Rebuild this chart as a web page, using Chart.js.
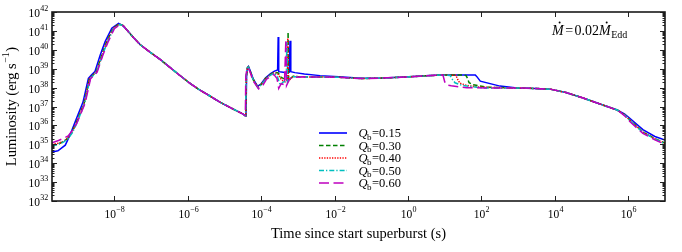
<!DOCTYPE html>
<html>
<head>
<meta charset="utf-8">
<script src="https://cdn.jsdelivr.net/npm/chart.js@4/dist/chart.umd.min.js"></script>
<style>
  html, body { margin: 0; padding: 0; background: #fff; }
  #wrap { width: 682px; height: 252px; }
</style>
</head>
<body>
<div id="wrap"><canvas id="lumChart"></canvas></div>
<script>
// Q_b values for the five runs
const qbValues = ['0.15', '0.30', '0.40', '0.50', '0.60'];
const xTickExps = [-8, -6, -4, -2, 0, 2, 4, 6];
const yTickExps = [32, 33, 34, 35, 36, 37, 38, 39, 40, 41, 42];

// [time (s), luminosity (erg/s)]
const decayPts = [
  [2.2e-8, 1.1e41], [3.3e-8, 4.5e40], [5e-8, 1.9e40], [9.3e-8, 7.6e39], [1.8e-7, 3e39],
  [3.2e-7, 1.2e39], [6e-7, 4.5e38], [1.1e-6, 1.8e38], [2e-6, 8e37], [3.9e-6, 3.7e37],
  [7.5e-6, 1.7e37], [1.4e-5, 9e36], [2.3e-5, 5.5e36], [3.2e-5, 4e36]
];
const plateauPts = [
  [1.5e-3, 3.7e38], [5e-3, 3.6e38], [1.3e-2, 3.5e38], [5.4e-2, 3e38], [0.2, 3.2e38],
  [0.83, 3.6e38], [3, 4.2e38], [7.8, 4.6e38]
];
const tailPts = [
  [930, 9.5e37], [3000, 9e37], [7400, 8.3e37], [2e4, 5.5e37], [5.9e4, 2.8e37],
  [1.7e5, 1.35e37], [5e5, 6.5e36]
];

const q015 = [
  [2e-10, 3.9e34], [2.9e-10, 4.5e34], [4.6e-10, 9e34], [6.2e-10, 3.1e35], [8.5e-10, 1.5e36],
  [1.4e-9, 1.7e37], [1.96e-9, 3.1e38], [2.4e-9, 4.7e38], [2.95e-9, 7e38], [4.1e-9, 5.2e39],
  [5.6e-9, 2.7e40], [8.5e-9, 1.4e41], [1.3e-8, 2.5e41], [1.7e-8, 1.9e41],
  ...decayPts,
  [3.6e-5, 3.3e36], [3.85e-5, 3.2e36], [4e-5, 4e38], [4.2e-5, 1.1e39], [4.5e-5, 1.3e39],
  [5e-5, 8e38], [6e-5, 3e38], [8e-5, 1.15e38], [1e-4, 1.6e38], [1.3e-4, 3.2e38],
  [1.8e-4, 5.5e38], [2.3e-4, 7.5e38], [2.8e-4, 8.5e38], [2.9e-4, 4.8e40], [3e-4, 7e38],
  [4e-4, 6.5e38], [5e-4, 6e38], [5.8e-4, 6.5e38], [6.1e-4, 3e40], [6.4e-4, 7e38],
  [8.3e-4, 6.2e38], [1.5e-3, 5.3e38], [4e-3, 4.3e38], [1.3e-2, 3.7e38], [5.4e-2, 3.1e38],
  [0.2, 3.2e38], [0.83, 3.6e38], [3, 4.2e38], [7.8, 4.6e38], [30, 4.7e38], [68, 4.6e38],
  [75, 3.8e38], [93, 2.2e38], [320, 1.2e38],
  ...tailPts,
  [8e5, 4e36], [1.1e6, 2.4e36], [2.5e6, 6e35], [5.3e6, 2.6e35], [1e7, 1.7e35]
];
const q030 = [
  [2e-10, 8.5e34], [3e-10, 1.05e35], [4.2e-10, 1.4e35], [5.5e-10, 2.2e35], [7e-10, 4.5e35],
  [9e-10, 1.3e36], [1.5e-9, 1.5e37], [2.1e-9, 3e38], [2.6e-9, 4.5e38], [3.2e-9, 6.8e38],
  [4.5e-9, 5e39], [6.1e-9, 2.6e40], [9.2e-9, 1.35e41], [1.35e-8, 2.35e41], [1.75e-8, 1.9e41],
  ...decayPts,
  [3.6e-5, 3.3e36], [3.8e-5, 3.2e36], [3.95e-5, 4e38], [4.2e-5, 1.1e39], [4.5e-5, 1.25e39],
  [5e-5, 7.5e38], [6e-5, 2.8e38], [8.1e-5, 1.05e38], [1e-4, 1.5e38], [1.3e-4, 3e38],
  [1.8e-4, 5e38], [2.3e-4, 6.5e38], [2.9e-4, 6e38], [3.5e-4, 3.5e38], [4.5e-4, 2.8e38],
  [5.3e-4, 3e38], [5.4e-4, 8.7e40], [5.6e-4, 2.5e38], [7.4e-4, 4e38], [1e-3, 3.8e38],
  ...plateauPts,
  [30, 4.6e38], [38, 4.4e38], [42, 3e38], [46, 1.8e38], [60, 1.4e38], [140, 1.05e38],
  ...tailPts,
  [8e5, 3.6e36], [1.1e6, 1.9e36], [2.5e6, 4.5e35], [5.3e6, 2e35], [1e7, 1.15e35]
];
const q040 = [
  [2e-10, 1e35], [3e-10, 1.15e35], [4.2e-10, 1.45e35], [5.5e-10, 2.2e35], [7e-10, 4.4e35],
  [9.2e-10, 1.3e36], [1.5e-9, 1.5e37], [2.1e-9, 3e38], [2.6e-9, 4.5e38], [3.2e-9, 6.8e38],
  [4.6e-9, 5e39], [6.2e-9, 2.6e40], [9.3e-9, 1.35e41], [1.35e-8, 2.3e41], [1.75e-8, 1.9e41],
  ...decayPts,
  [3.6e-5, 3.3e36], [3.8e-5, 3.2e36], [3.95e-5, 4e38], [4.2e-5, 1.1e39], [4.5e-5, 1.2e39],
  [5e-5, 7.2e38], [6e-5, 2.7e38], [8.2e-5, 1e38], [1e-4, 1.45e38], [1.3e-4, 2.9e38],
  [1.8e-4, 4.8e38], [2.3e-4, 6.3e38], [2.9e-4, 5e38], [3.6e-4, 2.5e38], [4.5e-4, 2e38],
  [5.2e-4, 2.5e38], [5.3e-4, 4.2e40], [5.5e-4, 2.2e38], [7.4e-4, 3.9e38], [1e-3, 3.8e38],
  ...plateauPts,
  [20, 4.5e38], [23, 2.5e38], [26, 1.7e38], [40, 1.3e38], [93, 1.05e38],
  ...tailPts,
  [8e5, 3.6e36], [1.1e6, 1.9e36], [2.5e6, 4.5e35], [5.3e6, 2e35], [1e7, 1.1e35]
];
const q050 = [
  [2e-10, 8e34], [3e-10, 1e35], [4.2e-10, 1.35e35], [5.5e-10, 2e35], [7.2e-10, 4.2e35],
  [9.5e-10, 1.3e36], [1.55e-9, 1.5e37], [2.2e-9, 3e38], [2.7e-9, 4.5e38], [3.3e-9, 6.7e38],
  [4.7e-9, 4.9e39], [6.4e-9, 2.5e40], [9.6e-9, 1.3e41], [1.4e-8, 2.2e41], [1.8e-8, 1.85e41],
  ...decayPts,
  [3.6e-5, 3.3e36], [3.75e-5, 3.2e36], [3.9e-5, 4e38], [4.15e-5, 1.05e39], [4.5e-5, 1.2e39],
  [5e-5, 7e38], [6e-5, 2.6e38], [8.3e-5, 9.5e37], [1e-4, 1.4e38], [1.35e-4, 2.9e38],
  [1.8e-4, 4.6e38], [2.3e-4, 6e38], [2.8e-4, 3.5e38], [3.3e-4, 1.4e38], [4e-4, 2e38],
  [4.8e-4, 2.2e38], [5e-4, 2.6e40], [5.2e-4, 2e38], [7e-4, 3.8e38], [1e-3, 3.7e38],
  ...plateauPts,
  [14, 4.4e38], [16, 2.8e38], [19, 1.8e38], [30, 1.3e38], [112, 9.5e37],
  ...tailPts,
  [8e5, 3.5e36], [1.1e6, 1.8e36], [2.5e6, 4.3e35], [5.3e6, 1.9e35], [1e7, 1.05e35]
];
const q060 = [
  [2e-10, 1.2e35], [3e-10, 1.6e35], [4.2e-10, 2.1e35], [5.5e-10, 2.8e35], [7e-10, 5e35],
  [9.5e-10, 1.3e36], [1.6e-9, 1.5e37], [2.25e-9, 3e38], [2.8e-9, 4.4e38], [3.4e-9, 6.6e38],
  [4.8e-9, 4.8e39], [6.6e-9, 2.4e40], [1e-8, 1.3e41], [1.4e-8, 2.1e41], [1.8e-8, 1.8e41],
  ...decayPts,
  [3.5e-5, 3.4e36], [3.7e-5, 3.3e36], [3.8e-5, 4e38], [4.1e-5, 1e39], [4.4e-5, 1.15e39],
  [5e-5, 6.5e38], [6e-5, 2.3e38], [8.5e-5, 8.5e37], [1.1e-4, 1.3e38], [1.4e-4, 2.8e38],
  [2.2e-4, 5e38], [2.7e-4, 3e38], [3e-4, 9e37], [3.5e-4, 1.6e38], [4.3e-4, 1.4e38],
  [4.7e-4, 3.5e40], [4.9e-4, 1.3e38], [6e-4, 3e38], [8e-4, 3.5e38],
  ...plateauPts,
  [9, 4.4e38], [10, 2e38], [11, 1.4e38], [15, 1.25e38], [40, 9.8e37], [300, 9.5e37],
  ...tailPts,
  [8e5, 3.2e36], [1.1e6, 1.6e36], [2.5e6, 3.8e35], [5.3e6, 1.7e35], [1e7, 1e35]
];

const seriesData = [q015, q030, q040, q050, q060];
const colors = ['#0000ff', '#008000', '#ff0000', '#00bfbf', '#bf00bf'];
const dashes = [[], [4.5, 2.5], [1.3, 1.3], [5, 2, 1.3, 2], [10, 4.5]];

const FONT = '"Liberation Serif", "DejaVu Serif", serif';

function powLabel(ctx, exp, x, y, align) {
  const base = '10';
  const sup = String(exp).replace('-', '\u2212');
  ctx.font = '11.5px ' + FONT;
  const wb = ctx.measureText(base).width;
  ctx.font = '8px ' + FONT;
  const ws = ctx.measureText(sup).width;
  const x0 = align === 'right' ? x - wb - ws : x - (wb + ws) / 2;
  ctx.font = '11.5px ' + FONT;
  ctx.fillText(base, x0, y);
  ctx.font = '8px ' + FONT;
  ctx.fillText(sup, x0 + wb + 0.3, y - 5.5);
}

function seg(ctx, x1, y1, x2, y2) {
  ctx.beginPath();
  ctx.moveTo(x1, y1);
  ctx.lineTo(x2, y2);
  ctx.stroke();
}

function dotM(ctx, x, y) {
  ctx.font = 'italic 14px ' + FONT;
  ctx.fillText('M', x, y);
  const w = ctx.measureText('M').width;
  ctx.beginPath();
  ctx.arc(x + w / 2 + 1.8, y - 12, 1, 0, Math.PI * 2);
  ctx.fill();
  return w;
}

const decorations = {
  id: 'decorations',
  afterDraw(chart) {
    const { ctx, chartArea: a, scales: { x, y } } = chart;
    ctx.save();
    ctx.fillStyle = '#000';
    ctx.textAlign = 'left';
    ctx.textBaseline = 'alphabetic';

    // ticks
    ctx.strokeStyle = '#222';
    ctx.lineWidth = 1;
    xTickExps.forEach(e => {
      const px = Math.round(x.getPixelForValue(10 ** e)) + 0.5;
      seg(ctx, px, a.bottom, px, a.bottom - 5);
      seg(ctx, px, a.top, px, a.top + 5);
      powLabel(ctx, e, px, a.bottom + 16.5, 'center');
    });
    yTickExps.forEach(e => {
      const py = Math.round(y.getPixelForValue(10 ** e)) + 0.5;
      seg(ctx, a.left, py, a.left + 5, py);
      seg(ctx, a.right, py, a.right - 5, py);
      powLabel(ctx, e, a.left - 4, py + 4, 'right');
      if (e < 42) {
        for (let m = 2; m < 10; m++) {
          const pm = Math.round(y.getPixelForValue(m * 10 ** e)) + 0.5;
          seg(ctx, a.left, pm, a.left + 2.5, pm);
          seg(ctx, a.right, pm, a.right - 2.5, pm);
        }
      }
    });

    // frame
    ctx.lineWidth = 1.6;
    ctx.strokeStyle = '#1a1a1a';
    ctx.strokeRect(a.left, a.top, a.right - a.left, a.bottom - a.top);

    // axis titles
    ctx.font = '14.5px ' + FONT;
    ctx.textAlign = 'center';
    ctx.fillText('Time since start superburst (s)', (a.left + a.right) / 2, 238);

    ctx.save();
    ctx.translate(15.5, (a.top + a.bottom) / 2);
    ctx.rotate(-Math.PI / 2);
    ctx.textAlign = 'left';
    const t1 = 'Luminosity (erg s', t2 = '\u22121', t3 = ')';
    ctx.font = '14.5px ' + FONT;
    const w1 = ctx.measureText(t1).width, w3 = ctx.measureText(t3).width;
    ctx.font = '10px ' + FONT;
    const w2 = ctx.measureText(t2).width;
    const tx = -(w1 + w2 + w3 + 1) / 2;
    ctx.font = '14.5px ' + FONT;
    ctx.fillText(t1, tx, 0);
    ctx.font = '10px ' + FONT;
    ctx.fillText(t2, tx + w1 + 0.5, -6.5);
    ctx.font = '14.5px ' + FONT;
    ctx.fillText(t3, tx + w1 + w2 + 1, 0);
    ctx.restore();

    // legend
    ctx.textAlign = 'left';
    qbValues.forEach((q, i) => {
      const ly = 133 + i * 12.5;
      ctx.strokeStyle = colors[i];
      ctx.lineWidth = 1.6;
      ctx.setLineDash(dashes[i]);
      seg(ctx, 319, ly, 347, ly);
      ctx.setLineDash([]);
      ctx.font = 'italic 12.5px ' + FONT;
      ctx.fillText('Q', 358.5, ly + 4);
      const wq = ctx.measureText('Q').width;
      ctx.font = '9px ' + FONT;
      ctx.fillText('b', 358.5 + wq - 0.5, ly + 6.5);
      const wb = ctx.measureText('b').width;
      ctx.font = '12.5px ' + FONT;
      ctx.fillText('=' + q, 358.5 + wq + wb, ly + 4);
    });

    // accretion-rate note
    const ay = 34.5;
    let ax = 552;
    ax += dotM(ctx, ax, ay) + 1.5;
    ctx.font = '14px ' + FONT;
    ctx.fillText('=', ax, ay);
    ax += ctx.measureText('=').width + 1.5;
    ctx.fillText('0.02', ax, ay);
    ax += ctx.measureText('0.02').width;
    ax += dotM(ctx, ax, ay);
    ctx.font = '10px ' + FONT;
    ctx.fillText('Edd', ax + 0.5, ay + 3);

    ctx.restore();
  }
};

new Chart(document.getElementById('lumChart'), {
  type: 'line',
  data: {
    datasets: seriesData.map((pts, i) => ({
      label: 'Qb=' + qbValues[i],
      data: pts.map(p => ({ x: p[0], y: p[1] })),
      borderColor: colors[i],
      borderDash: dashes[i],
      borderWidth: 1.5,
      pointRadius: 0,
      fill: false,
      tension: 0,
      order: 5 - i
    }))
  },
  options: {
    responsive: true,
    maintainAspectRatio: false,
    animation: false,
    devicePixelRatio: 1,
    layout: { padding: { left: 52, top: 12, right: 17, bottom: 51 } },
    scales: {
      x: { type: 'logarithmic', min: 2e-10, max: 1e7, display: false },
      y: { type: 'logarithmic', min: 1e32, max: 1e42, display: false }
    },
    plugins: { legend: { display: false }, tooltip: { enabled: false } }
  },
  plugins: [decorations]
});
</script>
</body>
</html>
